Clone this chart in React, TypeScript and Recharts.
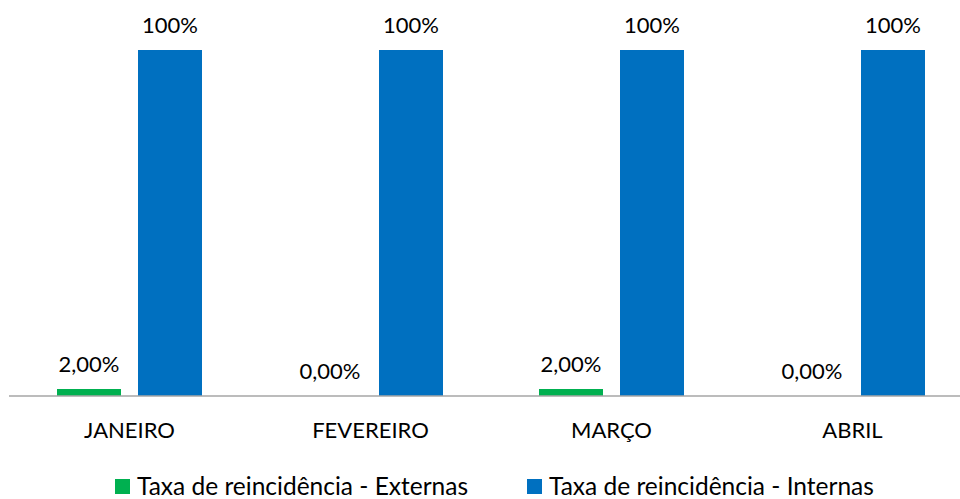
import { BarChart, Bar, XAxis, YAxis, LabelList } from "recharts";

const months = ["JANEIRO", "FEVEREIRO", "MARÇO", "ABRIL"];
const externas = [2, 0, 2, 0];
const internas = [100, 100, 100, 100];

const seriesNames = [
  "Taxa de reincidência - Externas",
  "Taxa de reincidência - Internas",
];
const seriesColors = ["#00b050", "#0070c0"];

const data = months.map((m, i) => ({
  month: m,
  externas: externas[i],
  internas: internas[i],
}));

const FONT = "Lato, 'Open Sans', sans-serif";

const fmtExt = (v: any) => `${Number(v).toFixed(2).replace(".", ",")}%`;
const fmtInt = (v: any) => `${v}%`;

export default function App() {
  return (
    <div
      style={{
        position: "absolute",
        left: 0,
        top: 0,
        width: 960,
        height: 499,
        overflow: "hidden",
        background: "#fff",
        fontFamily: FONT,
      }}
    >
      {/* plot runs a bit past the right edge, like the original crop */}
      <BarChart
        width={960}
        height={499}
        data={data}
        margin={{ top: 50, left: 9, right: -13, bottom: 73 }}
        barSize={64}
        barGap={17}
      >
        <XAxis
          dataKey="month"
          height={30}
          tickLine={false}
          tickSize={0}
          tickMargin={26}
          axisLine={{ stroke: "#a6a6a6", strokeWidth: 1.5 }}
          tick={{ fontSize: 22, fill: "#000", fontFamily: FONT }}
          interval={0}
        />
        <YAxis hide domain={[0, 100]} />
        {/* tiny minPointSize so the 0 bars still get their label */}
        <Bar
          dataKey="externas"
          fill={seriesColors[0]}
          minPointSize={0.01}
          isAnimationActive={false}
        >
          <LabelList
            dataKey="externas"
            position="top"
            offset={17}
            formatter={fmtExt}
            style={{ fontSize: 22, fill: "#000", fontFamily: FONT }}
          />
        </Bar>
        <Bar
          dataKey="internas"
          fill={seriesColors[1]}
          isAnimationActive={false}
        >
          <LabelList
            dataKey="internas"
            position="top"
            offset={17}
            formatter={fmtInt}
            style={{ fontSize: 22, fill: "#000", fontFamily: FONT }}
          />
        </Bar>
      </BarChart>

      {/* legend */}
      {seriesNames.map((name, i) => (
        <div
          key={name}
          style={{
            position: "absolute",
            left: i === 0 ? 115 : 527,
            top: 474,
            height: 24,
            lineHeight: "24px",
            display: "flex",
            alignItems: "center",
            fontSize: 24.5,
            color: "#000",
            whiteSpace: "nowrap",
          }}
        >
          <span
            style={{
              display: "inline-block",
              width: 15,
              height: 15,
              background: seriesColors[i],
              marginRight: 7,
            }}
          />
          {name}
        </div>
      ))}
    </div>
  );
}
